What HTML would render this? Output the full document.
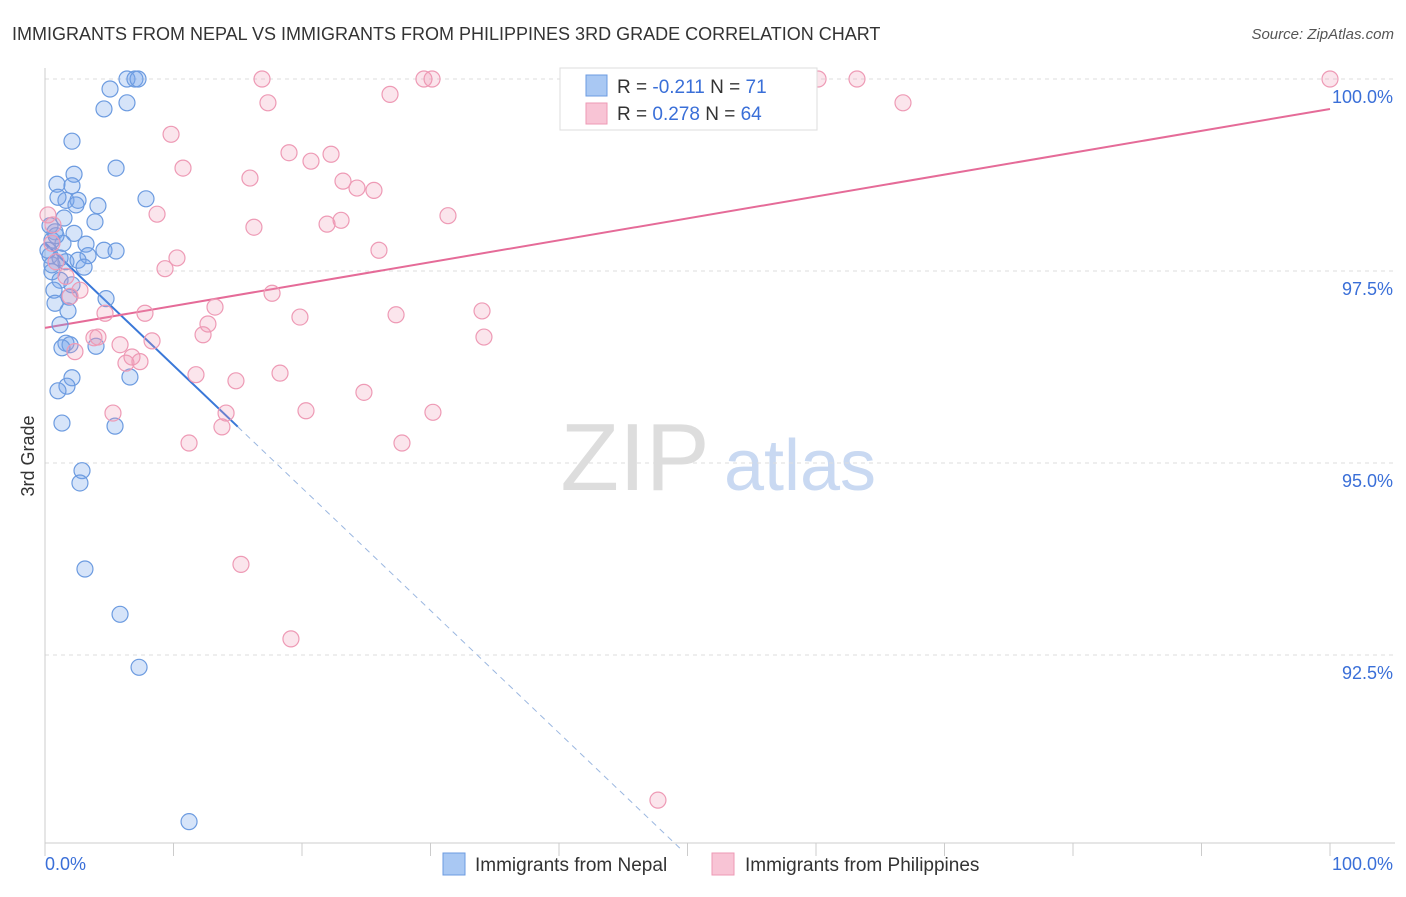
<!DOCTYPE html>
<html><head><meta charset="utf-8"><style>
body{margin:0;background:#fff;font-family:"Liberation Sans",sans-serif;}
svg text{font-family:"Liberation Sans",sans-serif;}
</style></head><body>
<svg id="chart" width="1406" height="892" xmlns="http://www.w3.org/2000/svg">
<text x="12" y="40" font-size="18" fill="#333">IMMIGRANTS FROM NEPAL VS IMMIGRANTS FROM PHILIPPINES 3RD GRADE CORRELATION CHART</text>
<text x="1394" y="39" font-size="15" fill="#555" font-style="italic" text-anchor="end">Source: ZipAtlas.com</text>
<text x="34" y="456" font-size="18" fill="#333" text-anchor="middle" transform="rotate(-90 34 456)">3rd Grade</text>
<g>
<text x="635" y="490" font-size="96" fill="#ddd" text-anchor="middle" font-family="Liberation Serif">ZIP</text>
<text x="800" y="490" font-size="72" fill="#c9d9f2" text-anchor="middle">atlas</text>
</g>
<g id="grid"></g>
<g id="axes"></g>
<g id="trend"></g>
<g id="points"></g>
<g>
<rect x="560" y="68" width="257" height="62" fill="#fff" stroke="#ddd"/>
<rect x="586" y="75" width="21" height="21" fill="#a9c8f3" stroke="#6c9be0"/>
<text x="617" y="93" font-size="19" fill="#333">R = <tspan fill="#3a6fd8">-0.211</tspan>   N = <tspan fill="#3a6fd8">71</tspan></text>
<rect x="586" y="103" width="21" height="21" fill="#f8c4d5" stroke="#ee9ab5"/>
<text x="617" y="120" font-size="19" fill="#333">R = <tspan fill="#3a6fd8"> 0.278</tspan>   N = <tspan fill="#3a6fd8">64</tspan></text>
</g>
<g>
<rect x="443" y="853" width="22" height="22" fill="#a9c8f3" stroke="#6c9be0"/>
<text x="475" y="871" font-size="19" fill="#333">Immigrants from Nepal</text>
<rect x="712" y="853" width="22" height="22" fill="#f8c4d5" stroke="#ee9ab5"/>
<text x="745" y="871" font-size="19" fill="#333">Immigrants from Philippines</text>
</g>
</svg>
<script>
const yTicks=[100,97.5,95,92.5];
const yTickLabels=["100.0%","97.5%","95.0%","92.5%"];
const xTicks=[0,10,20,30,40,50,60,70,80,90,100];
const nepalX=[6.38,7.00,7.24,5.06,6.38,4.59,2.10,5.53,2.26,0.93,2.10,1.63,1.01,2.57,2.41,4.12,7.86,1.48,3.89,0.39,0.78,2.26,0.54,1.40,3.19,4.59,5.53,3.35,0.39,1.63,2.57,3.04,0.54,1.17,2.10,0.70,1.87,4.75,0.78,1.79,1.17,1.63,1.95,1.32,3.97,2.10,6.61,1.71,1.01,1.32,5.45,2.88,2.72,3.11,5.84,7.32,11.21,0.23,0.54,0.86,1.17];
const nepalY=[100,100,100,99.87,99.69,99.61,99.19,98.84,98.76,98.63,98.61,98.42,98.46,98.42,98.36,98.35,98.44,98.19,98.14,98.09,98.01,97.99,97.90,97.86,97.85,97.77,97.76,97.70,97.70,97.62,97.64,97.55,97.49,97.38,97.32,97.25,97.16,97.14,97.08,96.98,96.80,96.56,96.54,96.50,96.52,96.11,96.12,96.00,95.94,95.52,95.48,94.90,94.74,93.62,93.03,92.34,90.33,97.77,97.58,97.96,97.67];
const philX=[0.23,0.62,0.54,0.86,1.63,1.95,2.72,4.67,7.78,3.81,4.12,5.84,8.33,6.77,7.39,6.30,2.33,5.29,9.81,10.74,8.72,10.27,9.34,13.23,12.68,12.30,11.75,14.86,18.29,11.21,14.09,13.77,15.25,19.14,16.89,17.35,15.95,16.26,17.67,18.99,20.70,22.26,19.84,20.31,23.19,24.28,25.60,21.95,23.04,25.99,24.82,26.85,27.32,27.78,29.49,30.12,31.36,30.19,34.01,34.16,47.70,60.16,63.19,66.77,100];
const philY=[98.23,98.10,97.86,97.62,97.43,97.17,97.25,96.95,96.95,96.63,96.64,96.54,96.59,96.38,96.32,96.30,96.45,95.65,99.28,98.84,98.24,97.67,97.53,97.03,96.81,96.67,96.15,96.07,96.17,95.26,95.65,95.47,93.68,92.71,100,99.69,98.71,98.07,97.21,99.04,98.93,99.02,96.90,95.68,98.67,98.58,98.55,98.11,98.16,97.77,95.92,99.80,96.93,95.26,100,100,98.22,95.66,96.98,96.64,90.61,100,100,99.69,100];
const nepalTrend=[97.865,-0.1595];
const philTrend=[96.76,0.0285];
const NS="http://www.w3.org/2000/svg";
function X(v){return 45+v*12.85;}
function Y(v){return 79+(100-v)*76.8;}
function mk(tag,attrs,parent){const e=document.createElementNS(NS,tag);for(const k in attrs)e.setAttribute(k,attrs[k]);parent.appendChild(e);return e;}
const grid=document.getElementById('grid'),axes=document.getElementById('axes'),trend=document.getElementById('trend'),pts=document.getElementById('points');
yTicks.forEach((t,i)=>{
 const l=mk('line',{x1:45,x2:1395,y1:Y(t),y2:Y(t),stroke:'#ddd','stroke-dasharray':'4,4'},grid);
 
 
 const tx=mk('text',{x:1393,y:Y(t)+24,'font-size':18,fill:'#3a6fd8','text-anchor':'end'},axes);
 tx.textContent=yTickLabels[i];
 
 
});
const ya=mk('line',{x1:45,x2:45,y1:68,y2:843,stroke:'#ccc'},axes);


const xa=mk('line',{x1:45,x2:1395,y1:843,y2:843,stroke:'#ccc'},axes);


xTicks.forEach(t=>{
 const l=mk('line',{x1:X(t),x2:X(t),y1:843,y2:856,stroke:'#ccc'},axes);
 
 
});
[[0,"0.0%",'start',45],[100,"100.0%",'end',1393]].forEach(a=>{
 const tx=mk('text',{x:a[3],y:870,'font-size':18,fill:'#3a6fd8','text-anchor':a[2]},axes);
 tx.textContent=a[1];
 
 
});
function drawPts(xs,ys,fill,stroke,name){
 xs.forEach((x,i)=>{
  const c=mk('circle',{cx:X(x),cy:Y(ys[i]),r:8,fill:fill,stroke:stroke,'stroke-width':1.2},pts);
  
  
 });
}
drawPts(nepalX,nepalY,'rgba(120,165,235,0.3)','#6c9be0','nepal-point');
drawPts(philX,philY,'rgba(240,150,180,0.25)','#ee9ab5','philippines-point');
const n1=mk('line',{x1:X(0),y1:Y(nepalTrend[0]),x2:X(15),y2:Y(nepalTrend[0]+15*nepalTrend[1]),stroke:'#3a78d8','stroke-width':2},trend);


const n2=mk('line',{x1:X(15),y1:Y(nepalTrend[0]+15*nepalTrend[1]),x2:X(49.4),y2:Y(nepalTrend[0]+49.4*nepalTrend[1]),stroke:'#9bb7e0','stroke-width':1,'stroke-dasharray':'6,5'},trend);


const p1=mk('line',{x1:X(0),y1:Y(philTrend[0]),x2:X(100),y2:Y(philTrend[0]+100*philTrend[1]),stroke:'#e56b98','stroke-width':2},trend);


</script>
</body></html>
